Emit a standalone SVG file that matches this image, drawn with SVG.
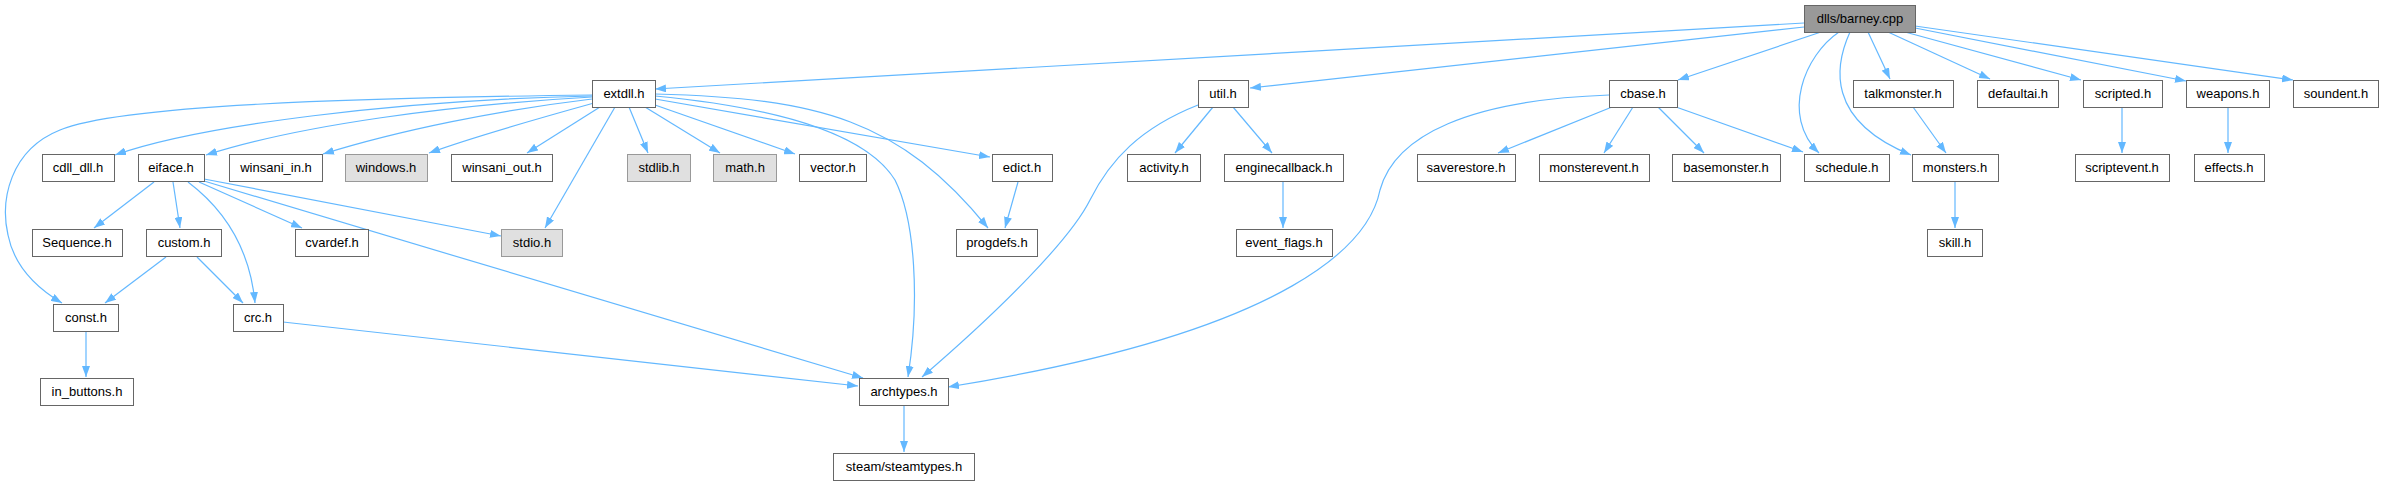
<svg xmlns="http://www.w3.org/2000/svg" width="2384" height="485" viewBox="0 0 2384 485">
<style>
.n rect{fill:#ffffff;stroke:#666666;stroke-width:1}
.g rect{fill:#e0e0e0;stroke:#999999;stroke-width:1}
.r rect{fill:#999999;stroke:#666666;stroke-width:1}
text{font-family:"Liberation Sans",Arial,sans-serif;font-size:13px;fill:#000000;text-anchor:middle}
#edges path{fill:none;stroke:#63b8ff;stroke-width:1.2;marker-end:url(#ah)}
</style>
<defs>
<marker id="ah" markerUnits="userSpaceOnUse" markerWidth="11" markerHeight="8" refX="11" refY="4" orient="auto">
<path d="M0,0 L11,4 L0,8 z" fill="#63b8ff" stroke="none"/>
</marker>
</defs>
<rect width="2384" height="485" fill="#ffffff"/>
<g id="edges">
<path d="M1804,23 L655,89"/>
<path d="M1804,27 L1250,88"/>
<path d="M1821,32 L1678,80"/>
<path d="M1839,32 C1805,55 1780,115 1819,153"/>
<path d="M1850,32 C1835,65 1825,120 1911,155"/>
<path d="M1868,32 L1890,79"/>
<path d="M1888,32 L1990,79"/>
<path d="M1905,32 L2081,80"/>
<path d="M1915,28 L2186,81"/>
<path d="M1915,26 L2293,80"/>
<path d="M592,96 C400,100 200,125 115,155"/>
<path d="M592,97 C450,105 300,125 206,155"/>
<path d="M592,99 C500,110 400,130 323,154"/>
<path d="M594,103 C540,118 470,138 429,153"/>
<path d="M600,107 L527,153"/>
<path d="M615,107 L545,228"/>
<path d="M629,107 L648,153"/>
<path d="M645,107 L720,153"/>
<path d="M655,105 L795,154"/>
<path d="M655,99 L990,157"/>
<path d="M655,94 C820,98 900,120 988,228"/>
<path d="M655,96 C800,110 870,140 895,180 C915,220 920,300 908,377"/>
<path d="M592,95 C350,98 120,105 60,130 C10,150 0,200 8,235 C15,270 40,290 62,303"/>
<path d="M154,182 L94,228"/>
<path d="M173,182 L180,228"/>
<path d="M188,182 C225,210 250,250 255,303"/>
<path d="M199,182 L302,228"/>
<path d="M204,179 L501,236"/>
<path d="M204,181 L863,378"/>
<path d="M166,257 L105,303"/>
<path d="M197,257 L243,303"/>
<path d="M86,331 L86,377"/>
<path d="M283,322 L858,386"/>
<path d="M904,405 L904,452"/>
<path d="M1018,182 L1005,228"/>
<path d="M1213,107 L1175,153"/>
<path d="M1233,107 L1272,153"/>
<path d="M1198,105 C1140,128 1110,160 1090,200 C1070,240 1000,310 922,377"/>
<path d="M1283,182 L1283,228"/>
<path d="M1612,107 L1498,153"/>
<path d="M1633,107 L1604,153"/>
<path d="M1658,107 L1704,153"/>
<path d="M1676,107 L1803,152"/>
<path d="M1609,95 C1470,100 1395,135 1380,190 C1370,240 1300,330 948,387"/>
<path d="M1913,107 L1946,153"/>
<path d="M1955,182 L1955,228"/>
<path d="M2122,107 L2122,153"/>
<path d="M2228,107 L2228,153"/>
</g>
<g id="barney" class="r"><rect x="1804.5" y="5.5" width="111" height="27"/><text x="1860" y="23">dlls/barney.cpp</text></g>
<g id="extdll" class="n"><rect x="592.5" y="80.5" width="63" height="27"/><text x="624" y="98">extdll.h</text></g>
<g id="util" class="n"><rect x="1198.5" y="80.5" width="50" height="27"/><text x="1223" y="98">util.h</text></g>
<g id="cbase" class="n"><rect x="1609.5" y="80.5" width="68" height="27"/><text x="1643" y="98">cbase.h</text></g>
<g id="talkmonster" class="n"><rect x="1853.5" y="80.5" width="100" height="27"/><text x="1903" y="98">talkmonster.h</text></g>
<g id="defaultai" class="n"><rect x="1977.5" y="80.5" width="81" height="27"/><text x="2018" y="98">defaultai.h</text></g>
<g id="scripted" class="n"><rect x="2083.5" y="80.5" width="79" height="27"/><text x="2123" y="98">scripted.h</text></g>
<g id="weapons" class="n"><rect x="2186.5" y="80.5" width="83" height="27"/><text x="2228" y="98">weapons.h</text></g>
<g id="soundent" class="n"><rect x="2293.5" y="80.5" width="85" height="27"/><text x="2336" y="98">soundent.h</text></g>
<g id="cdll_dll" class="n"><rect x="42.5" y="154.5" width="72" height="27"/><text x="78" y="172">cdll_dll.h</text></g>
<g id="eiface" class="n"><rect x="138.5" y="154.5" width="66" height="27"/><text x="171" y="172">eiface.h</text></g>
<g id="winsani_in" class="n"><rect x="229.5" y="154.5" width="93" height="27"/><text x="276" y="172">winsani_in.h</text></g>
<g id="windows" class="g"><rect x="345.5" y="154.5" width="82" height="27"/><text x="386" y="172">windows.h</text></g>
<g id="winsani_out" class="n"><rect x="451.5" y="154.5" width="101" height="27"/><text x="502" y="172">winsani_out.h</text></g>
<g id="stdlib" class="g"><rect x="627.5" y="154.5" width="63" height="27"/><text x="659" y="172">stdlib.h</text></g>
<g id="math" class="g"><rect x="713.5" y="154.5" width="63" height="27"/><text x="745" y="172">math.h</text></g>
<g id="vector" class="n"><rect x="799.5" y="154.5" width="67" height="27"/><text x="833" y="172">vector.h</text></g>
<g id="edict" class="n"><rect x="992.5" y="154.5" width="60" height="27"/><text x="1022" y="172">edict.h</text></g>
<g id="activity" class="n"><rect x="1127.5" y="154.5" width="73" height="27"/><text x="1164" y="172">activity.h</text></g>
<g id="enginecallback" class="n"><rect x="1224.5" y="154.5" width="119" height="27"/><text x="1284" y="172">enginecallback.h</text></g>
<g id="saverestore" class="n"><rect x="1417.5" y="154.5" width="98" height="27"/><text x="1466" y="172">saverestore.h</text></g>
<g id="monsterevent" class="n"><rect x="1539.5" y="154.5" width="110" height="27"/><text x="1594" y="172">monsterevent.h</text></g>
<g id="basemonster" class="n"><rect x="1672.5" y="154.5" width="108" height="27"/><text x="1726" y="172">basemonster.h</text></g>
<g id="schedule" class="n"><rect x="1804.5" y="154.5" width="85" height="27"/><text x="1847" y="172">schedule.h</text></g>
<g id="monsters" class="n"><rect x="1912.5" y="154.5" width="86" height="27"/><text x="1955" y="172">monsters.h</text></g>
<g id="scriptevent" class="n"><rect x="2075.5" y="154.5" width="94" height="27"/><text x="2122" y="172">scriptevent.h</text></g>
<g id="effects" class="n"><rect x="2194.5" y="154.5" width="70" height="27"/><text x="2229" y="172">effects.h</text></g>
<g id="Sequence" class="n"><rect x="32.5" y="229.5" width="90" height="27"/><text x="77" y="247">Sequence.h</text></g>
<g id="custom" class="n"><rect x="146.5" y="229.5" width="75" height="27"/><text x="184" y="247">custom.h</text></g>
<g id="cvardef" class="n"><rect x="295.5" y="229.5" width="73" height="27"/><text x="332" y="247">cvardef.h</text></g>
<g id="stdio" class="g"><rect x="501.5" y="229.5" width="61" height="27"/><text x="532" y="247">stdio.h</text></g>
<g id="progdefs" class="n"><rect x="956.5" y="229.5" width="81" height="27"/><text x="997" y="247">progdefs.h</text></g>
<g id="event_flags" class="n"><rect x="1236.5" y="229.5" width="96" height="27"/><text x="1284" y="247">event_flags.h</text></g>
<g id="skill" class="n"><rect x="1927.5" y="229.5" width="55" height="27"/><text x="1955" y="247">skill.h</text></g>
<g id="const" class="n"><rect x="53.5" y="304.5" width="65" height="27"/><text x="86" y="322">const.h</text></g>
<g id="crc" class="n"><rect x="233.5" y="304.5" width="50" height="27"/><text x="258" y="322">crc.h</text></g>
<g id="in_buttons" class="n"><rect x="40.5" y="378.5" width="93" height="27"/><text x="87" y="396">in_buttons.h</text></g>
<g id="archtypes" class="n"><rect x="859.5" y="378.5" width="89" height="27"/><text x="904" y="396">archtypes.h</text></g>
<g id="steamtypes" class="n"><rect x="833.5" y="453.5" width="141" height="27"/><text x="904" y="471">steam/steamtypes.h</text></g>
</svg>
